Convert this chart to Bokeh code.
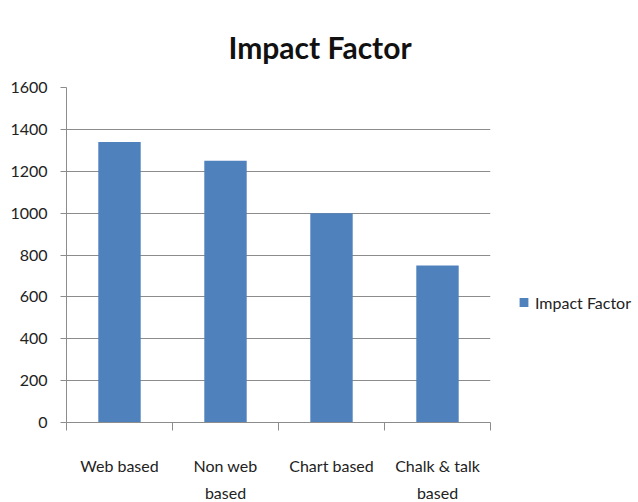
from bokeh.plotting import figure
from bokeh.models import Range1d, FixedTicker, Title, Legend, LegendItem, ColumnDataSource
from bokeh.embed import file_html
from bokeh.resources import INLINE

categories = ["Web based", "Non web\nbased", "Chart based", "Chalk & talk\nbased"]
values = [1340, 1250, 1000, 750]
y_ticks = [0, 200, 400, 600, 800, 1000, 1200, 1400, 1600]
series_name = "Impact Factor"
title_text = "Impact Factor"

positions = [i + 0.5 for i in range(len(categories))]
boundaries = [i for i in range(len(categories) + 1)]

BLUE = "#4F81BD"
GRID = "#8C8C8C"
FONT = "Lato"

p = figure(frame_width=424, frame_height=335, output_backend="svg", toolbar_location=None,
           x_range=Range1d(0, len(categories)), y_range=Range1d(0, 1600),
           min_border_left=66, min_border_right=146, min_border_top=87, min_border_bottom=78,
           tools="")
p.outline_line_color = None
p.background_fill_color = "white"
p.border_fill_color = "white"

src = ColumnDataSource(dict(x=positions, top=values))
r = p.vbar(x="x", top="top", width=0.4, bottom=0, source=src, fill_color=BLUE, line_color=None)

# axes
p.xaxis.ticker = FixedTicker(ticks=positions, minor_ticks=boundaries)
p.xaxis.major_label_overrides = {pos: lab for pos, lab in zip(positions, categories)}
p.xaxis.major_tick_out = 0
p.xaxis.major_tick_in = 0
p.xaxis.minor_tick_out = 8
p.xaxis.minor_tick_in = 0
p.xaxis.minor_tick_line_color = GRID
p.xaxis.axis_line_color = GRID
p.xaxis.major_label_standoff = 25
p.xaxis.major_label_text_font = FONT
p.xaxis.major_label_text_font_size = "16px"
p.xaxis.major_label_text_line_height = 1.45
p.xaxis.major_label_text_color = "#222222"

p.yaxis.ticker = FixedTicker(ticks=y_ticks)
p.yaxis.minor_tick_line_color = None
p.yaxis.major_tick_out = 6
p.yaxis.major_tick_in = 0
p.yaxis.major_tick_line_color = GRID
p.yaxis.axis_line_color = GRID
p.yaxis.major_label_standoff = 13
p.yaxis.major_label_text_font = FONT
p.yaxis.major_label_text_font_size = "16px"
p.yaxis.major_label_text_color = "#222222"

p.xgrid.grid_line_color = None
p.ygrid.grid_line_color = GRID
p.ygrid.grid_line_alpha = 1.0

legend = Legend(items=[LegendItem(label=series_name, renderers=[r])], location="left",
                glyph_width=11, glyph_height=11, label_text_font=FONT,
                label_text_font_size="16px", label_text_color="#222222",
                border_line_color=None, background_fill_alpha=0, padding=0, margin=28,
                label_standoff=6, title=" ", title_text_font_size="10px",
                title_standoff=83)
p.add_layout(legend, "right")

p.title = Title(text=title_text, align="left", offset=162, text_font=FONT,
                text_font_size="30px", text_font_style="bold", text_color="#111111",
                standoff=46)

open("out.html", "w").write(file_html(p, INLINE))
